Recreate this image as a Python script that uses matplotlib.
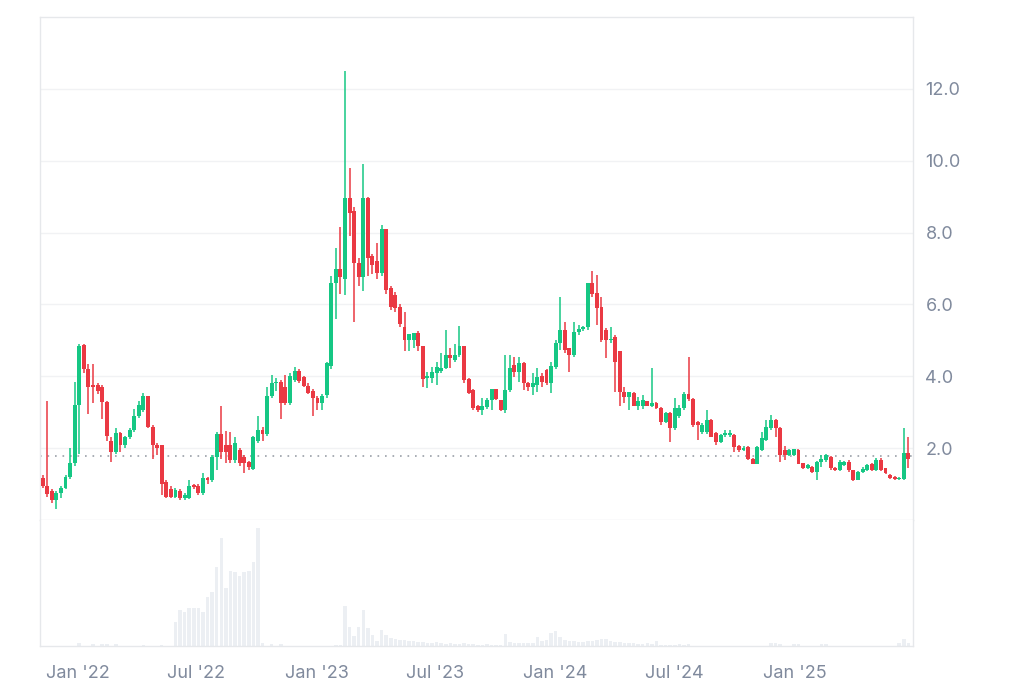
import matplotlib
matplotlib.use("Agg")
import matplotlib.pyplot as plt
import matplotlib.dates as mdates
import numpy as np
import pandas as pd

plt.rcParams['font.family'] = ['Inter', 'DejaVu Sans']

start_date = "2021-11-08"

opens = [1.16, 0.95, 0.80, 0.55, 0.75, 0.90, 1.20, 1.60, 3.20, 4.87,
         4.19, 3.75, 3.75, 3.70, 3.29, 2.20, 1.90, 2.42, 2.10, 2.30,
         2.50, 2.90, 3.06, 3.45, 2.60, 2.10, 2.09, 1.05, 0.85, 0.65,
         0.80, 0.60, 0.60, 0.95, 0.95, 0.75, 1.18, 1.10, 1.76, 2.40,
         2.10, 2.10, 1.67, 1.95, 1.76, 1.62, 1.43, 2.20, 2.50, 2.40,
         3.46, 3.80, 3.83, 3.70, 3.25, 3.90, 4.14, 3.99, 3.74, 3.60,
         3.40, 3.25, 3.47, 4.30, 6.60, 7.00, 6.70, 8.95, 8.60, 7.15,
         6.77, 8.96, 7.35, 7.20, 6.87, 8.10, 6.45, 6.25, 5.94, 5.38,
         5.00, 5.00, 5.20, 4.83, 3.95, 3.95, 4.09, 4.14, 4.23, 4.60,
         4.45, 4.60, 4.83, 3.93, 3.62, 3.16, 3.07, 3.14, 3.34, 3.64,
         3.34, 3.07, 3.62, 4.32, 4.13, 4.37, 3.81, 3.70, 3.76, 4.00,
         4.18, 3.80, 4.27, 4.92, 5.29, 4.78, 4.60, 5.24, 5.33, 5.38,
         6.59, 6.31, 5.94, 5.29, 5.00, 5.10, 4.69, 3.57, 3.43, 3.53,
         3.16, 3.16, 3.30, 3.16, 3.25, 3.11, 2.74, 2.97, 2.55, 2.90,
         3.11, 3.52, 3.38, 2.74, 2.46, 2.46, 2.78, 2.41, 2.18, 2.36,
         2.36, 2.36, 2.06, 1.95, 2.04, 1.71, 1.57, 1.95, 2.22, 2.55,
         2.78, 2.55, 1.95, 1.81, 1.81, 1.95, 1.59, 1.44, 1.48, 1.34,
         1.62, 1.67, 1.76, 1.44, 1.39, 1.53, 1.62, 1.39, 1.11, 1.34,
         1.39, 1.56, 1.39, 1.67, 1.44, 1.25, 1.20, 1.13, 1.13, 1.87]

highs = [1.25, 3.30, 0.85, 0.80, 0.95, 1.25, 2.00, 3.85, 4.90, 4.90,
         4.35, 4.33, 3.80, 3.75, 3.30, 2.30, 2.55, 2.45, 2.35, 2.55,
         3.10, 3.30, 3.54, 3.45, 2.65, 2.15, 2.10, 1.10, 0.95, 0.90,
         0.85, 0.75, 1.10, 1.00, 1.00, 1.30, 1.20, 1.80, 2.45, 3.18,
         2.49, 2.45, 2.30, 2.00, 1.80, 1.65, 2.35, 2.90, 2.60, 3.70,
         4.04, 3.95, 3.90, 4.04, 4.10, 4.27, 4.20, 4.00, 3.80, 3.65,
         3.45, 3.50, 4.40, 6.80, 7.56, 8.15, 12.50, 9.80, 8.70, 7.30,
         9.90, 9.00, 7.40, 7.70, 8.20, 8.10, 6.50, 6.35, 6.00, 5.78,
         5.15, 5.20, 5.25, 4.85, 4.13, 4.27, 4.40, 4.65, 5.29, 4.80,
         4.90, 5.41, 4.85, 3.95, 3.65, 3.20, 3.40, 3.40, 3.65, 3.65,
         3.35, 4.60, 4.60, 4.55, 4.55, 4.41, 3.85, 4.10, 4.23, 4.10,
         4.20, 4.41, 5.00, 6.22, 5.50, 4.80, 5.52, 5.43, 5.40, 6.60,
         6.93, 6.82, 6.22, 5.35, 5.38, 5.15, 4.70, 3.71, 3.55, 3.55,
         3.43, 3.48, 3.30, 4.22, 3.28, 3.15, 3.00, 3.00, 3.40, 3.20,
         3.57, 4.55, 3.40, 2.75, 2.70, 3.06, 2.80, 2.45, 2.40, 2.50,
         2.50, 2.40, 2.10, 2.05, 2.06, 1.73, 2.06, 2.45, 2.78, 2.92,
         2.80, 2.60, 2.05, 1.97, 1.97, 1.97, 1.60, 1.55, 1.50, 1.65,
         1.80, 1.85, 1.78, 1.48, 1.68, 1.63, 1.67, 1.40, 1.35, 1.48,
         1.55, 1.58, 1.72, 1.72, 1.46, 1.27, 1.22, 1.20, 2.55, 2.32]

lows = [0.90, 0.65, 0.46, 0.30, 0.60, 0.85, 1.15, 1.50, 1.85, 4.10,
        2.96, 3.25, 3.50, 2.80, 2.20, 1.62, 1.85, 1.90, 2.00, 2.25,
        2.45, 2.85, 3.00, 2.55, 1.70, 1.80, 0.70, 0.60, 0.60, 0.60,
        0.55, 0.55, 0.58, 0.85, 0.70, 0.70, 1.00, 1.05, 1.40, 1.70,
        1.58, 1.60, 1.60, 1.50, 1.30, 1.40, 1.40, 2.15, 2.20, 2.35,
        3.40, 3.60, 2.80, 3.20, 3.20, 3.85, 3.80, 3.70, 3.50, 2.90,
        3.05, 3.05, 3.40, 4.20, 5.60, 6.30, 6.26, 7.90, 5.52, 6.50,
        6.36, 6.80, 6.85, 6.70, 6.80, 6.30, 5.85, 5.80, 5.38, 4.70,
        4.69, 4.80, 4.70, 3.70, 3.67, 3.80, 3.75, 4.08, 4.20, 4.23,
        4.40, 4.55, 3.80, 3.50, 3.05, 3.00, 2.93, 3.10, 3.05, 3.35,
        3.02, 2.97, 3.55, 3.99, 3.85, 3.62, 3.60, 3.48, 3.57, 3.70,
        3.75, 3.53, 4.20, 4.73, 4.64, 4.13, 4.55, 5.15, 5.25, 5.30,
        6.20, 5.43, 4.95, 4.50, 4.92, 3.57, 3.16, 3.25, 3.06, 3.16,
        3.06, 3.10, 3.16, 3.15, 3.10, 2.65, 2.70, 2.18, 2.50, 2.85,
        3.05, 3.30, 2.60, 2.22, 2.40, 2.40, 2.30, 2.08, 2.15, 2.30,
        2.30, 1.90, 1.90, 1.93, 1.66, 1.55, 1.55, 1.93, 2.20, 2.50,
        2.30, 1.62, 1.67, 1.78, 1.78, 1.55, 1.42, 1.42, 1.30, 1.11,
        1.48, 1.62, 1.40, 1.36, 1.37, 1.50, 1.33, 1.08, 1.10, 1.32,
        1.37, 1.37, 1.37, 1.37, 1.28, 1.15, 1.12, 1.12, 1.12, 1.44]

closes = [0.95, 0.72, 0.55, 0.75, 0.90, 1.20, 1.60, 3.20, 4.83, 4.19,
          3.70, 3.70, 3.60, 3.29, 2.33, 1.90, 2.42, 2.10, 2.30, 2.50,
          2.90, 3.20, 3.45, 2.60, 2.09, 2.00, 0.99, 0.65, 0.65, 0.83,
          0.60, 0.70, 0.95, 0.92, 0.75, 1.18, 1.10, 1.76, 2.40, 1.90,
          1.90, 1.67, 2.15, 1.58, 1.58, 1.48, 2.32, 2.50, 2.40, 3.45,
          3.80, 3.83, 3.25, 3.25, 4.00, 4.14, 3.87, 3.74, 3.53, 3.40,
          3.25, 3.45, 4.36, 6.60, 7.00, 6.75, 8.95, 8.55, 7.15, 6.77,
          8.96, 7.29, 7.10, 6.87, 8.10, 6.40, 5.94, 5.90, 5.45, 5.00,
          5.17, 5.20, 4.83, 3.93, 3.97, 4.13, 4.27, 4.23, 4.60, 4.50,
          4.60, 4.83, 3.90, 3.53, 3.11, 3.07, 3.16, 3.34, 3.64, 3.36,
          3.07, 3.62, 4.23, 4.13, 4.37, 3.81, 3.70, 3.80, 3.99, 3.85,
          3.80, 4.29, 4.92, 5.29, 4.73, 4.60, 5.24, 5.33, 5.38, 6.59,
          6.28, 5.89, 5.01, 5.01, 5.05, 4.41, 3.57, 3.43, 3.55, 3.16,
          3.30, 3.34, 3.16, 3.25, 3.11, 2.74, 2.97, 2.55, 3.11, 3.11,
          3.52, 3.38, 2.64, 2.64, 2.64, 2.78, 2.32, 2.18, 2.36, 2.40,
          2.40, 2.04, 1.95, 2.01, 1.71, 1.57, 2.04, 2.27, 2.58, 2.78,
          2.55, 1.81, 1.81, 1.95, 1.99, 1.57, 1.44, 1.53, 1.34, 1.62,
          1.71, 1.81, 1.44, 1.39, 1.62, 1.62, 1.39, 1.11, 1.34, 1.43,
          1.53, 1.39, 1.67, 1.39, 1.30, 1.16, 1.14, 1.17, 1.87, 1.71]

volumes = [0.5, 0.5, 0.5, 0.5, 0.5, 0.5, 0.5, 0.5, 3.3, 0.5,
           0.5, 1.7, 0.5, 1.7, 1.7, 0.5, 1.7, 0.5, 0.5, 0.5,
           0.5, 0.5, 1.3, 0.5, 0.5, 0.5, 1.3, 0.5, 0.5, 24,
           36, 34, 38, 38, 38, 34, 49, 54, 79, 108,
           58, 75, 74, 70, 74, 75, 84, 118, 3.3, 0.5,
           1.7, 0.5, 1.7, 0.5, 0.5, 0.5, 0.5, 0.5, 0.5, 0.5,
           0.5, 0.5, 0.5, 0.5, 1.5, 1.5, 40, 19, 10, 19,
           36, 18, 11, 5, 16, 11, 8, 7, 6, 6,
           5, 5, 4, 4, 3, 3, 4, 3, 2, 3,
           2, 2, 3, 2, 2, 1.5, 1.5, 2, 1.5, 1.5,
           1.5, 12, 4, 3, 3, 3, 3.5, 3.5, 9, 5,
           6, 13, 15, 9, 6, 5, 5, 4, 4, 5,
           5, 6, 7, 7, 5, 4, 4, 3, 3, 3,
           2, 2, 3, 2, 5, 1, 1, 1, 1, 2,
           1, 2, 0.5, 0.5, 0.5, 0.5, 0.5, 0.5, 0.5, 0.5,
           0.5, 0.5, 0.5, 0.5, 0.5, 0.5, 0.5, 0.5, 0.5, 3,
           3, 2, 0.5, 0.5, 2, 2, 0.5, 0.5, 0.5, 0.5,
           2, 2, 0.5, 0.5, 0.5, 0.5, 0.5, 0.5, 0.5, 0.5,
           0.5, 0.5, 0.5, 0.5, 0.5, 0.5, 0.5, 3, 7, 3]

last_price = 1.77
y_ticks = [2.0, 4.0, 6.0, 8.0, 10.0, 12.0]
x_tick_dates = ["2022-01-01", "2022-07-01", "2023-01-01", "2023-07-01",
                "2024-01-01", "2024-07-01", "2025-01-01"]
x_tick_labels = ["Jan '22", "Jul '22", "Jan '23", "Jul '23",
                 "Jan '24", "Jul '24", "Jan '25"]

UP = "#16c784"
DOWN = "#ea3943"
VOL = "#eceff3"
GRID = "#f1f2f4"
BORDER = "#e6e8eb"
TEXT = "#808a9d"

dates = pd.date_range(start_date, periods=len(closes), freq="7D")
xd = mdates.date2num(dates)
o = np.array(opens); h = np.array(highs); l = np.array(lows); c = np.array(closes)
up = c >= o
cols = np.where(up, UP, DOWN)

fig = plt.figure(figsize=(10.24, 6.83), dpi=100)
W, H = 1024, 683
L, R = 40, 913
ax = fig.add_axes([L / W, 1 - 520 / H, (R - L) / W, (520 - 17) / H])
axv = fig.add_axes([L / W, 1 - 646 / H, (R - L) / W, (646 - 520) / H], sharex=ax)

# candles
ax.vlines(xd, l, h, colors=cols, linewidth=1.1, zorder=3)
body_bottom = np.minimum(o, c)
body_h = np.maximum(np.abs(c - o), 0.05)
ax.bar(xd, body_h, bottom=body_bottom, width=6.0, color=cols, linewidth=0, zorder=4)
ax.axhline(last_price, color="#9a9fa8", linewidth=1.2, linestyle=(0, (1, 3.5)), zorder=2)

ax.set_ylim(0, 14)
ax.set_yticks(y_ticks)
ax.set_yticklabels([f"{v:.1f}" for v in y_ticks])
ax.yaxis.tick_right()
ax.tick_params(axis="y", length=0, pad=9, labelsize=13, labelcolor=TEXT)
ax.tick_params(axis="x", length=0, labelbottom=False)
ax.grid(axis="y", color=GRID, linewidth=1.0)
ax.set_axisbelow(True)
for s in ax.spines.values():
    s.set_color(BORDER)
    s.set_linewidth(1.0)

x0 = mdates.date2num(pd.Timestamp("2022-01-01")) - 58
x1 = mdates.date2num(pd.Timestamp("2022-01-01")) + 1276
ax.set_xlim(x0, x1)

# volume
axv.bar(xd, volumes, width=5.4, color=VOL, linewidth=0)
axv.set_ylim(0, 126)
axv.set_yticks([])
axv.spines["top"].set_visible(False)
for k in ["left", "right", "bottom"]:
    axv.spines[k].set_color(BORDER)
    axv.spines[k].set_linewidth(1.0)
axv.set_xticks(mdates.date2num(pd.to_datetime(x_tick_dates)))
axv.set_xticklabels(x_tick_labels)
axv.tick_params(axis="x", length=0, pad=14, labelsize=13, labelcolor=TEXT)

fig.savefig("out.png", dpi=100, facecolor="white")
